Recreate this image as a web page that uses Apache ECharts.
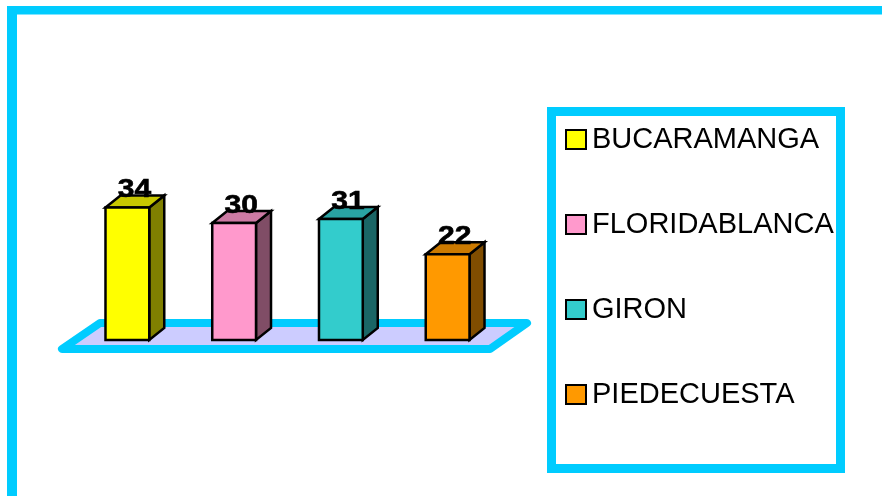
<!DOCTYPE html>
<html>
<head>
<meta charset="utf-8">
<script src="https://cdn.jsdelivr.net/npm/echarts@6/dist/echarts.min.js"></script>
<style>
  html, body { margin: 0; padding: 0; background: #ffffff; }
  #chart { width: 882px; height: 496px; }
</style>
</head>
<body>
<div id="chart"></div>
<script>
// Municipios y valores
const categories = ['BUCARAMANGA', 'FLORIDABLANCA', 'GIRON', 'PIEDECUESTA'];
const values = [34, 30, 31, 22];

// Caras de cada barra 3D: frente, tapa y lateral
const frontColors = ['#FFFF00', '#FF99CC', '#33CCCC', '#FF9900'];
const topColors = ['#C8C800', '#CC7AA3', '#29A3A3', '#CC7A00'];
const sideColors = ['#808000', '#804D66', '#1A6666', '#804D00'];

const FONT = '"Liberation Sans", Arial, sans-serif';
const CYAN = '#00CCFF';

const chart = echarts.init(document.getElementById('chart'), null, { renderer: 'canvas' });

// Piso en perspectiva bajo las barras, calculado a partir de la rejilla
function renderFloor(params, api) {
  const cs = params.coordSys;
  const zero = api.coord([0, 0])[1];
  const yFront = zero + 9;
  const yBack = zero - 17;
  const xl = cs.x, xr = cs.x + cs.width;
  return {
    type: 'polygon',
    shape: { points: [[xl - 12, yFront], [xr - 11, yFront], [xr + 26, yBack], [xl + 26, yBack]] },
    style: { fill: '#CCCCFF', stroke: CYAN, lineWidth: 8, lineJoin: 'round' }
  };
}

// Barra 3D con etiqueta de valor
function makeBarRenderer(ci) {
  return function (params, api) {
    const idx = api.value(0);
    const base = api.coord([idx, 0]);
    const top = api.coord([idx, api.value(1)]);
    const w = api.size([1, 0])[0] * 0.41;
    const x0 = base[0] - w / 2, x1 = base[0] + w / 2;
    const yb = base[1], yt = top[1];
    const dx = 15, dy = 12;
    const edge = { stroke: '#000', lineWidth: 2.5, lineJoin: 'miter' };
    return {
      type: 'group',
      children: [
        {
          type: 'polygon',
          shape: { points: [[x1, yt], [x1 + dx, yt - dy], [x1 + dx, yb - dy], [x1, yb]] },
          style: Object.assign({ fill: sideColors[ci] }, edge)
        },
        {
          type: 'polygon',
          shape: { points: [[x0, yt], [x0 + dx, yt - dy], [x1 + dx, yt - dy], [x1, yt]] },
          style: Object.assign({ fill: topColors[ci] }, edge)
        },
        {
          type: 'rect',
          shape: { x: x0, y: yt, width: w, height: yb - yt },
          style: Object.assign({ fill: frontColors[ci] }, edge)
        },
        {
          type: 'text',
          x: base[0] + 7,
          y: yt - 17,
          scaleX: 1.2,
          style: {
            text: String(api.value(1)),
            x: 0, y: 0,
            align: 'center',
            verticalAlign: 'middle',
            font: 'bold 25px ' + FONT,
            fill: '#000',
            stroke: '#000',
            lineWidth: 0.6
          }
        }
      ]
    };
  };
}

const series = [{
  type: 'custom',
  name: '__floor',
  renderItem: renderFloor,
  data: [[0, 0]],
  encode: { x: 0, y: 1 },
  silent: true,
  z: 1
}];

categories.forEach(function (name, i) {
  series.push({
    type: 'custom',
    name: name,
    renderItem: makeBarRenderer(i),
    data: [[i, values[i]]],
    encode: { x: 0, y: 1 },
    itemStyle: { color: frontColors[i] },
    z: 2
  });
});

chart.setOption({
  animation: false,
  backgroundColor: '#ffffff',
  grid: { left: 74, top: 184, width: 427, height: 156 },
  xAxis: { type: 'category', data: categories, show: false, boundaryGap: true },
  yAxis: { type: 'value', min: 0, max: 40, show: false },
  legend: {
    data: categories,
    orient: 'vertical',
    left: 565,
    top: 125,
    padding: 0,
    itemGap: 56,
    itemWidth: 20,
    itemHeight: 19,
    icon: 'rect',
    itemStyle: { borderColor: '#000', borderWidth: 2 },
    textStyle: { fontFamily: FONT, fontSize: 29, lineHeight: 29, color: '#000', padding: [0, 0, 0, 1] },
    selectedMode: false
  },
  graphic: [
    // Marco exterior
    { type: 'rect', shape: { x: 7, y: 6, width: 10, height: 490 }, style: { fill: CYAN }, z: 0 },
    { type: 'rect', shape: { x: 7, y: 6, width: 875, height: 8.5 }, style: { fill: CYAN }, z: 0 },
    // Recuadro de la leyenda
    {
      type: 'rect',
      shape: { x: 551.5, y: 111.5, width: 289, height: 357 },
      style: { fill: '#ffffff', stroke: CYAN, lineWidth: 9 },
      z: 0
    }
  ],
  series: series
});
</script>
</body>
</html>
